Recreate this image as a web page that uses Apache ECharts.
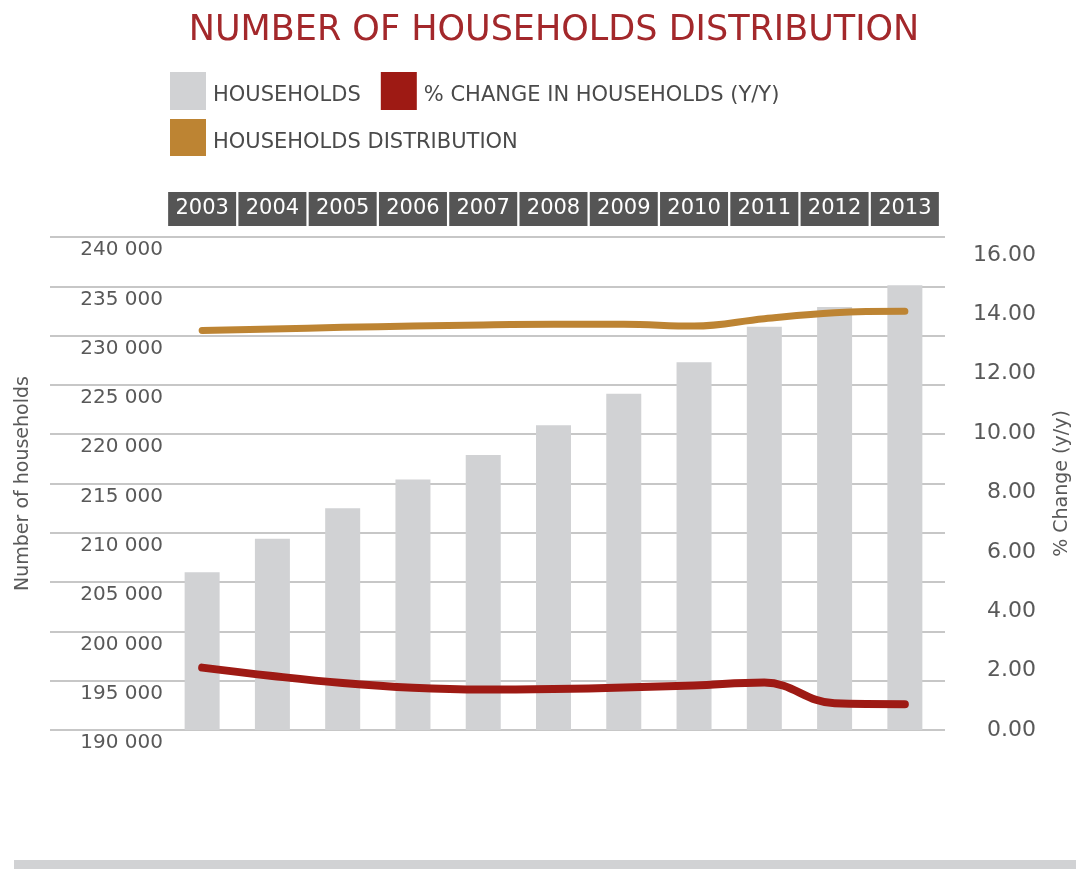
<!DOCTYPE html>
<html>
<head>
<meta charset="utf-8">
<title>Number of Households Distribution</title>
<script src="https://cdn.jsdelivr.net/npm/echarts@6/dist/echarts.min.js"></script>
<style>
  html, body { margin: 0; padding: 0; background: #ffffff; }
  #chart { width: 1076px; height: 869px; }
</style>
</head>
<body>
<div id="chart"></div>
<script>
// Years shown in the header strip
const years = ['2003', '2004', '2005', '2006', '2007', '2008', '2009', '2010', '2011', '2012', '2013'];
// Number of households (left axis)
const households = [206000, 209400, 212500, 215400, 217900, 220900, 224100, 227300, 230900, 232900, 235100];
// % change in households, year on year (right axis)
const pctChange = [2.1, 1.82, 1.58, 1.42, 1.36, 1.38, 1.43, 1.5, 1.6, 0.9, 0.87];
// Households distribution (right axis)
const distribution = [13.45, 13.5, 13.56, 13.6, 13.64, 13.66, 13.66, 13.6, 13.85, 14.05, 14.1];

const FONT = 'DejaVu Sans';
const TEXT = '#595959';

const chart = echarts.init(document.getElementById('chart'), null, { renderer: 'canvas' });

function spaced(v) {
  return String(v).replace(/\B(?=(\d{3})+(?!\d))/g, ' ');
}

// legend labels sit a little below the middle of their swatch
const legendText = {
  fontFamily: FONT, fontSize: 21, color: '#4a4a4a',
  rich: {
    t: { fontFamily: FONT, fontSize: 21, color: '#4a4a4a', padding: [10, 0, 0, 2] }
  }
};
const legendFormatter = function (name) { return '{t|' + name + '}'; };

chart.setOption({
  animation: false,
  backgroundColor: '#ffffff',
  textStyle: { fontFamily: FONT },
  title: {
    text: 'NUMBER OF HOUSEHOLDS DISTRIBUTION',
    left: 549,
    textAlign: 'center',
    top: 8,
    textStyle: { fontFamily: FONT, fontSize: 35, fontWeight: 'normal', color: '#a3282b' }
  },
  legend: [
    {
      left: 170, top: 72, padding: 0,
      itemWidth: 36, itemHeight: 38, itemGap: 20,
      icon: 'rect',
      itemStyle: { borderWidth: 0 },
      textStyle: legendText,
      formatter: legendFormatter,
      data: [
        { name: 'HOUSEHOLDS', icon: 'rect' },
        { name: '% CHANGE IN HOUSEHOLDS (Y/Y)', icon: 'rect' }
      ]
    },
    {
      left: 170, top: 119, padding: 0,
      itemWidth: 36, itemHeight: 37,
      icon: 'rect',
      itemStyle: { borderWidth: 0 },
      textStyle: legendText,
      formatter: legendFormatter,
      data: [{ name: 'HOUSEHOLDS DISTRIBUTION', icon: 'rect' }]
    }
  ],
  grid: [
    // wide grid that only carries the horizontal rules
    { left: 50, right: 131, top: 237, bottom: 139, containLabel: false, outerBoundsMode: 'none' },
    // plot grid holding the bars and lines
    { left: 167, right: 136, top: 237, bottom: 139, containLabel: false, outerBoundsMode: 'none' }
  ],
  xAxis: [
    { gridIndex: 0, type: 'value', min: 0, max: 1, show: false },
    {
      gridIndex: 1,
      type: 'category',
      position: 'top',
      data: years,
      axisLine: { show: false },
      axisTick: { show: false },
      splitLine: { show: false },
      axisLabel: {
        interval: 0,
        hideOverlap: false,
        margin: 11,
        color: '#ffffff',
        fontFamily: FONT,
        fontSize: 21,
        backgroundColor: '#555555',
        width: 68,
        height: 34,
        lineHeight: 34,
        align: 'center',
        verticalAlign: 'bottom'
      }
    }
  ],
  yAxis: [
    {
      gridIndex: 0,
      type: 'value',
      min: 0, max: 10, interval: 1,
      axisLine: { show: false },
      axisTick: { show: false },
      axisLabel: { show: false },
      splitLine: { show: true, lineStyle: { color: '#b4b4b4', width: 1.5 } }
    },
    {
      gridIndex: 1,
      type: 'value',
      position: 'left',
      min: 190000, max: 240000, interval: 5000,
      name: 'Number of households',
      nameLocation: 'middle',
      nameGap: 134,
      nameTextStyle: { fontFamily: FONT, fontSize: 19, color: TEXT },
      axisLine: { show: false },
      axisTick: { show: false },
      splitLine: { show: false },
      axisLabel: {
        margin: 4,
        color: TEXT,
        fontFamily: FONT,
        fontSize: 20,
        verticalAlign: 'top',
        padding: [3, 0, 0, 0],
        formatter: spaced
      }
    },
    {
      gridIndex: 1,
      type: 'value',
      position: 'right',
      min: 0, max: 16.6, interval: 2,
      name: '% Change (y/y)',
      nameLocation: 'middle',
      nameGap: 113,
      nameTextStyle: { fontFamily: FONT, fontSize: 19, color: TEXT },
      axisLine: { show: false },
      axisTick: { show: false },
      splitLine: { show: false },
      axisLabel: {
        margin: 96,
        align: 'right',
        color: TEXT,
        fontFamily: FONT,
        fontSize: 22,
        padding: [5, 0, 0, 0],
        showMaxLabel: false,
        formatter: function (v) { return (Math.abs(v % 2) < 1e-9) ? v.toFixed(2) : ''; }
      }
    }
  ],
  series: [
    {
      name: 'HOUSEHOLDS',
      type: 'bar',
      xAxisIndex: 1,
      yAxisIndex: 1,
      data: households,
      barWidth: 35,
      itemStyle: { color: '#d1d2d4' },
      z: 2
    },
    {
      name: '% CHANGE IN HOUSEHOLDS (Y/Y)',
      type: 'line',
      xAxisIndex: 1,
      yAxisIndex: 2,
      data: pctChange,
      smooth: 0.4,
      showSymbol: false,
      itemStyle: { color: '#9e1a14' },
      lineStyle: { color: '#9e1a14', width: 8, cap: 'round', join: 'round' },
      z: 4
    },
    {
      name: 'HOUSEHOLDS DISTRIBUTION',
      type: 'line',
      xAxisIndex: 1,
      yAxisIndex: 2,
      data: distribution,
      smooth: 0.4,
      showSymbol: false,
      itemStyle: { color: '#bd8433' },
      lineStyle: { color: '#bd8433', width: 7, cap: 'round', join: 'round' },
      z: 4
    }
  ],
  graphic: [
    {
      type: 'rect',
      left: 14, top: 860,
      shape: { width: 1062, height: 9 },
      style: { fill: '#d1d2d4' },
      silent: true
    }
  ]
});
</script>
</body>
</html>
